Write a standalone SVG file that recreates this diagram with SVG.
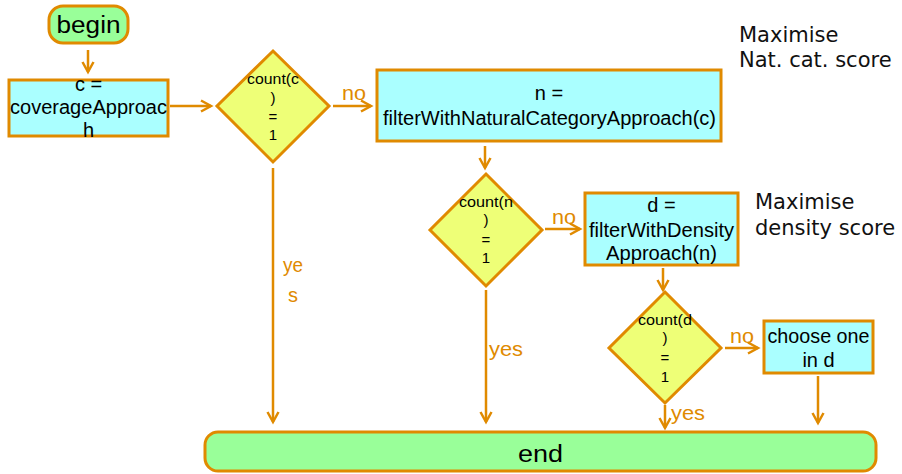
<svg xmlns="http://www.w3.org/2000/svg" width="902" height="474" viewBox="0 0 902 474">
  <defs>
    <marker id="arrow" markerWidth="14" markerHeight="14" refX="11" refY="7" orient="auto" markerUnits="userSpaceOnUse">
      <path d="M1,1.5 L11,7 L1,12.5" fill="none" stroke="#E08A00" stroke-width="2.5"/>
    </marker>
  </defs>
  <style>
    .box { fill: #AAFFFF; stroke: #E08A00; stroke-width: 3; }
    .term { fill: #99FF99; stroke: #E08A00; stroke-width: 3; }
    .dec { fill: #EEFF77; stroke: #E08A00; stroke-width: 3; stroke-linejoin: miter; }
    .t { font-family: "Liberation Sans", Arial, sans-serif; fill: #000; text-anchor: middle; }
    .lbl { font-family: "Liberation Sans", Arial, sans-serif; fill: #E08A00; font-size: 20px; }
    .note { font-family: "DejaVu Sans", Verdana, sans-serif; fill: #111; font-size: 21px; }
    .edge { stroke: #E08A00; stroke-width: 2.5; fill: none; marker-end: url(#arrow); }
  </style>

  <g id="begin">
    <rect class="term" x="49" y="6" width="79" height="37" rx="14"/>
    <text class="t" x="88.5" y="33" font-size="23" textLength="64" lengthAdjust="spacingAndGlyphs">begin</text>
  </g>

  <g id="coverage">
    <rect class="box" x="9" y="80" width="159" height="56"/>
    <text class="t" x="88.5" y="91" font-size="20">c =</text>
    <text class="t" x="88.5" y="114" font-size="20" textLength="157" lengthAdjust="spacingAndGlyphs">coverageApproac</text>
    <text class="t" x="88.5" y="137" font-size="20">h</text>
  </g>

  <g id="count-c">
    <polygon class="dec" points="273,51 329,106 273,162 217,106"/>
    <text class="t" x="273" y="84" font-size="15" textLength="52" lengthAdjust="spacingAndGlyphs">count(c</text>
    <text class="t" x="273" y="103" font-size="15">)</text>
    <text class="t" x="273" y="122" font-size="15">=</text>
    <text class="t" x="273" y="140" font-size="15">1</text>
  </g>

  <g id="natural">
    <rect class="box" x="377" y="70" width="344" height="71"/>
    <text class="t" x="549" y="100" font-size="20">n =</text>
    <text class="t" x="549.5" y="125" font-size="20" textLength="333" lengthAdjust="spacingAndGlyphs">filterWithNaturalCategoryApproach(c)</text>
  </g>

  <g id="count-n">
    <polygon class="dec" points="486,174 542,230 486,286 430,230"/>
    <text class="t" x="486" y="207" font-size="15" textLength="54" lengthAdjust="spacingAndGlyphs">count(n</text>
    <text class="t" x="486" y="225" font-size="15">)</text>
    <text class="t" x="486" y="245" font-size="15">=</text>
    <text class="t" x="486" y="263" font-size="15">1</text>
  </g>

  <g id="density">
    <rect class="box" x="585" y="193" width="153" height="72"/>
    <text class="t" x="661.5" y="212" font-size="20">d =</text>
    <text class="t" x="661.5" y="237" font-size="20" textLength="145" lengthAdjust="spacingAndGlyphs">filterWithDensity</text>
    <text class="t" x="661.5" y="260" font-size="20" textLength="111" lengthAdjust="spacingAndGlyphs">Approach(n)</text>
  </g>

  <g id="count-d">
    <polygon class="dec" points="665,292 721,348 665,403 609,348"/>
    <text class="t" x="665" y="325" font-size="15" textLength="54" lengthAdjust="spacingAndGlyphs">count(d</text>
    <text class="t" x="665" y="343" font-size="15">)</text>
    <text class="t" x="665" y="363" font-size="15">=</text>
    <text class="t" x="665" y="382" font-size="15">1</text>
  </g>

  <g id="choose">
    <rect class="box" x="764" y="321" width="109" height="52"/>
    <text class="t" x="818.5" y="343" font-size="20" textLength="102" lengthAdjust="spacingAndGlyphs">choose one</text>
    <text class="t" x="818.5" y="367" font-size="20">in d</text>
  </g>

  <g id="end">
    <rect class="term" x="205" y="432" width="671" height="39" rx="13"/>
    <text class="t" x="540.5" y="462" font-size="23" textLength="45" lengthAdjust="spacingAndGlyphs">end</text>
  </g>

  <g id="notes">
    <text class="note" x="739" y="42">Maximise</text>
    <text class="note" x="739" y="67">Nat. cat. score</text>
    <text class="note" x="755" y="209">Maximise</text>
    <text class="note" x="755" y="235">density score</text>
  </g>

  <g id="connectors">
    <path class="edge" d="M88,50 L88,72"/>
    <path class="edge" d="M170,106 L211,106"/>
    <path class="edge" d="M333,106 L371,106"/>
    <path class="edge" d="M485,146 L485,168"/>
    <path class="edge" d="M545,229 L580,229"/>
    <path class="edge" d="M663,268 L663,290"/>
    <path class="edge" d="M725,348 L758,348"/>
    <path class="edge" d="M818,376 L818,423"/>
    <path class="edge" d="M273,168 L273,422"/>
    <path class="edge" d="M486,290 L486,422"/>
    <path class="edge" d="M665,405 L665,428"/>
    <text class="lbl" x="342" y="100" textLength="24" lengthAdjust="spacingAndGlyphs">no</text>
    <text class="lbl" x="552" y="224" textLength="24" lengthAdjust="spacingAndGlyphs">no</text>
    <text class="lbl" x="730" y="343" textLength="24" lengthAdjust="spacingAndGlyphs">no</text>
    <text class="lbl" x="283" y="272" textLength="20" lengthAdjust="spacingAndGlyphs">ye</text>
    <text class="lbl" x="288" y="302">s</text>
    <text class="lbl" x="489" y="356" textLength="34" lengthAdjust="spacingAndGlyphs">yes</text>
    <text class="lbl" x="671" y="420" textLength="34" lengthAdjust="spacingAndGlyphs">yes</text>
  </g>
</svg>
